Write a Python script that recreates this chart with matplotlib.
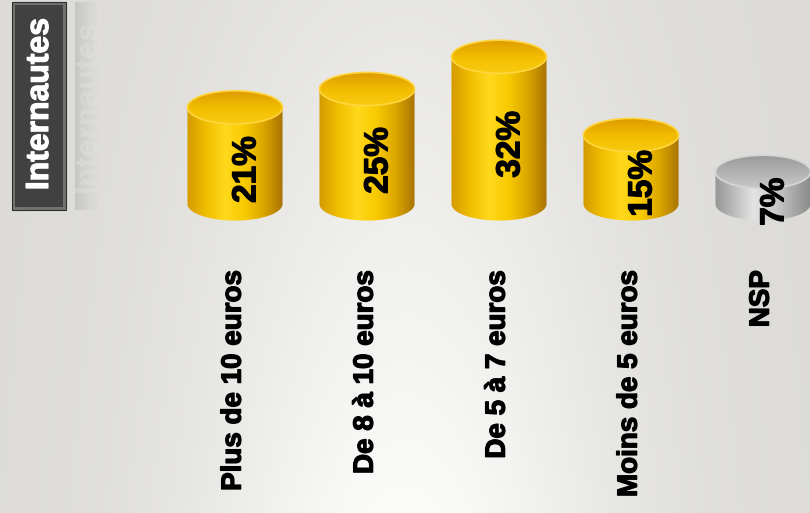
import numpy as np
import matplotlib.pyplot as plt
import matplotlib.patheffects as pe
from matplotlib.patches import Ellipse, Rectangle, Polygon
from matplotlib.colors import to_rgb

# ====== data ======
categories = ["Plus de 10 euros", "De 8 à 10 euros", "De 5 à 7 euros",
              "Moins de 5 euros", "NSP"]
values = [21, 25, 32, 15, 7]
value_labels = ["21%", "25%", "32%", "15%", "7%"]
grey_bar = [False, False, False, False, True]
panel_title = "Internautes"

# ====== style ======
W, H = 810, 513
px_per_unit = 4.6          # vertical pixels per percent
base_px = 204              # pixel row of the cylinder base centre
step_px = 132              # horizontal distance between cylinders
first_px = 235
cyl_w = 0.72               # in category units
cyl_eh = 7.2               # ellipse height in percent units
font = ["Liberation Sans", "DejaVu Sans"]
heavy = [pe.withStroke(linewidth=0.9, foreground='black')]

gold_body = ['#d49a00', '#f0be00', '#ffd91c', '#f8ca00', '#dca600', '#a87400']
gold_top = ['#dc9a00', '#f2bc00', '#f9cc10']
grey_body = ['#969696', '#bcbcbc', '#e4e4e4', '#d0d0d0', '#acacac', '#8a8a8a']
grey_top = ['#989898', '#b0b0b0', '#c8c8c8']


def ramp(colors, n=200):
    stops = np.linspace(0, 1, len(colors))
    rgb = np.array([to_rgb(c) for c in colors])
    t = np.linspace(0, 1, n)
    return np.stack([np.interp(t, stops, rgb[:, k]) for k in range(3)], axis=-1)


def cylinder(ax, xc, h, body_cols, top_cols, rim):
    x0, x1 = xc - cyl_w / 2, xc + cyl_w / 2
    th = np.linspace(np.pi, 2 * np.pi, 80)
    arc = np.column_stack([xc + cyl_w / 2 * np.cos(th), cyl_eh / 2 * np.sin(th)])
    outline = np.vstack([[x0, h], arc, [x1, h]])
    body = Polygon(outline, closed=True, transform=ax.transData)
    im = ax.imshow(ramp(body_cols)[None, :, :], extent=[x0, x1, -cyl_eh / 2, h],
                   aspect='auto', interpolation='bilinear', zorder=2)
    im.set_clip_path(body)

    top = Ellipse((xc, h), cyl_w, cyl_eh, transform=ax.transData)
    im2 = ax.imshow(ramp(top_cols)[:, None, :], extent=[x0, x1, h - cyl_eh / 2, h + cyl_eh / 2],
                    aspect='auto', interpolation='bilinear', origin='upper', zorder=3)
    im2.set_clip_path(top)
    ax.add_patch(Ellipse((xc, h), cyl_w, cyl_eh, facecolor='none',
                         edgecolor=rim, linewidth=1.2, zorder=4))


fig = plt.figure(figsize=(W / 100, H / 100), dpi=100)

# ====== background ======
bg = fig.add_axes([0, 0, 1, 1], zorder=0)
X, Y = np.meshgrid(np.linspace(0, 1, 400), np.linspace(0, 1, 260))
glow = np.exp(-((X - 0.5) / 0.27) ** 2) * (0.35 + 0.65 * Y)
c_dark = np.array(to_rgb('#dcdbd7'))
c_light = np.array(to_rgb('#fbfbfa'))
bg.imshow(c_dark + (c_light - c_dark) * glow[..., None], aspect='auto',
          extent=[0, 1, 0, 1], interpolation='bilinear')
bg.axis('off')

# ====== left title box ======
def fx(px):
    return px / W


def fy(py):
    return 1 - py / H


fig.add_artist(Rectangle((fx(12), fy(210)), fx(54), 208 / H, transform=fig.transFigure,
                         facecolor='#727272', edgecolor='#2e2e2e', linewidth=0.8, zorder=2))
fig.add_artist(Rectangle((fx(15), fy(207)), fx(48), 202 / H, transform=fig.transFigure,
                         facecolor='#414141', edgecolor='none', zorder=2))
fig.text(fx(40), fy(104), panel_title, rotation=90, ha='center', va='center',
         color='white', fontsize=23, fontweight='bold', family=font, zorder=3,
         path_effects=[pe.withStroke(linewidth=0.8, foreground='white')])

strip = fig.add_axes([fx(75), fy(210), fx(26), 208 / H], zorder=1)
sx = np.linspace(0, 1, 60)
s0, s1 = np.array(to_rgb('#c4c4c0')), np.array(to_rgb('#dfdeda'))
strip.imshow((s0 + (s1 - s0) * sx[:, None] ** 0.7)[None, :, :], aspect='auto',
             extent=[0, 1, 0, 1], interpolation='bilinear')
strip.text(0.5, 0.5, panel_title, rotation=90, ha='center', va='center', color='#e2e2df',
           fontsize=23, fontweight='bold', family=font, alpha=0.45)
strip.axis('off')

# ====== cylinders ======
y_lo = -(H - base_px - 20) / px_per_unit
y_hi = (base_px - 4) / px_per_unit
n = len(categories)
ax = fig.add_axes([fx(first_px - step_px / 2), fy(base_px - y_lo * px_per_unit),
                   n * step_px / W, (y_hi - y_lo) * px_per_unit / H], zorder=2)
ax.set_facecolor('none')

for i, (v, grey) in enumerate(zip(values, grey_bar)):
    if grey:
        cylinder(ax, i, v, grey_body, grey_top, '#d6d6d6')
    else:
        cylinder(ax, i, v, gold_body, gold_top, '#ffd640')
    ax.text(i + 0.09, v / 2 - 3, value_labels[i], rotation=90, ha='center', va='center',
            fontsize=24, fontweight='bold', family=font, color='black', zorder=6,
            path_effects=heavy)
    ax.text(i - 0.01, -(270 - base_px) / px_per_unit, categories[i], rotation=90, ha='center',
            va='top', fontsize=20, fontweight='bold', family=font, color='black', zorder=6,
            path_effects=heavy)

ax.set_xlim(-0.5, n - 0.5)
ax.set_ylim(y_lo, y_hi)
ax.set_aspect('auto')
ax.axis('off')

fig.savefig('out.png', dpi=100)
